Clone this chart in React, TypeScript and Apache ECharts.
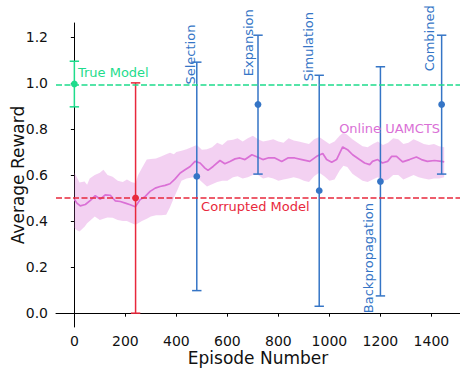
import React, { useEffect, useRef } from "react";
import * as echarts from "echarts";

// ---------- data ----------
const xTicks = [0, 200, 400, 600, 800, 1000, 1200, 1400];
const yTicks = [0, 0.2, 0.4, 0.6, 0.8, 1.0, 1.2];

const episodes = [
  0, 10, 23, 43, 63, 82, 102, 121, 141, 160, 180, 200, 219, 239, 258, 278, 297, 317, 336, 356,
  375, 395, 415, 434, 454, 473, 493, 512, 524, 544, 571, 590, 610, 630, 649, 669, 696, 720, 739,
  759, 786, 813, 837, 864, 892, 923, 950, 974, 989, 1009, 1028, 1052, 1071, 1091, 1118, 1138,
  1158, 1169, 1189, 1208, 1228, 1244, 1263, 1287, 1314, 1341, 1361, 1384, 1412, 1439, 1450,
];
const meanReward = [
  0.495, 0.478, 0.466, 0.472, 0.49, 0.51, 0.495, 0.514, 0.512, 0.488, 0.485, 0.478, 0.471, 0.462,
  0.493, 0.507, 0.529, 0.543, 0.55, 0.555, 0.562, 0.583, 0.609, 0.623, 0.637, 0.659, 0.652, 0.63,
  0.62, 0.637, 0.663, 0.649, 0.659, 0.67, 0.674, 0.667, 0.688, 0.677, 0.667, 0.674, 0.674, 0.659,
  0.674, 0.674, 0.667, 0.659, 0.681, 0.693, 0.667, 0.655, 0.667, 0.722, 0.71, 0.688, 0.667, 0.652,
  0.645, 0.659, 0.667, 0.652, 0.659, 0.681, 0.681, 0.657, 0.667, 0.678, 0.667, 0.659, 0.663,
  0.659, 0.657,
];

const bandEpisodes = [
  0, 10, 20, 40, 50, 60, 80, 100, 114, 130, 150, 170, 190, 206, 225, 240, 250, 265, 284, 300,
  320, 340, 360, 375, 390, 400, 420, 440, 466, 480, 500, 520, 540, 560, 580, 600, 622, 640, 660,
  680, 700, 720, 740, 760, 780, 800, 820, 840, 860, 880, 900, 920, 940, 960, 980, 1000, 1020,
  1040, 1055, 1070, 1090, 1110, 1130, 1150, 1170, 1190, 1210, 1230, 1250, 1270, 1290, 1310,
  1330, 1350, 1370, 1390, 1410, 1430, 1450,
];
const bandUpper = [
  0.61, 0.59, 0.567, 0.572, 0.558, 0.585, 0.6, 0.61, 0.623, 0.6, 0.592, 0.575, 0.57, 0.58, 0.568,
  0.565, 0.6, 0.63, 0.667, 0.67, 0.672, 0.68, 0.69, 0.697, 0.69, 0.7, 0.705, 0.712, 0.724, 0.73,
  0.71, 0.712, 0.72, 0.74, 0.73, 0.75, 0.753, 0.76, 0.745, 0.76, 0.77, 0.755, 0.745, 0.75, 0.755,
  0.745, 0.74, 0.76, 0.75, 0.745, 0.74, 0.735, 0.755, 0.765, 0.75, 0.735, 0.745, 0.77, 0.785,
  0.775, 0.755, 0.74, 0.725, 0.72, 0.735, 0.745, 0.73, 0.74, 0.76, 0.755, 0.735, 0.74, 0.755,
  0.745, 0.735, 0.73, 0.735, 0.725, 0.72,
];
const bandLower = [
  0.37, 0.36, 0.355, 0.375, 0.39, 0.4, 0.42, 0.405, 0.41, 0.415, 0.414, 0.405, 0.4, 0.4, 0.39,
  0.384, 0.39, 0.4, 0.41, 0.42, 0.425, 0.425, 0.427, 0.46, 0.5, 0.525, 0.575, 0.585, 0.59, 0.59,
  0.57, 0.55, 0.56, 0.57, 0.575, 0.575, 0.59, 0.595, 0.585, 0.59, 0.6, 0.6, 0.585, 0.59, 0.585,
  0.575, 0.58, 0.585, 0.59, 0.585, 0.575, 0.57, 0.595, 0.61, 0.595, 0.575, 0.58, 0.62, 0.64,
  0.635, 0.605, 0.59, 0.575, 0.57, 0.58, 0.59, 0.575, 0.58, 0.6, 0.6, 0.58, 0.59, 0.6, 0.59,
  0.585, 0.58, 0.585, 0.585, 0.59,
];

const methodNames = ["True Model", "Corrupted Model", "Selection", "Expansion", "Simulation", "Backpropagation", "Combined"];
const methodEpisodes = [0, 240, 480, 720, 960, 1200, 1440];
const methodMean = [0.995, 0.5, 0.594, 0.906, 0.532, 0.572, 0.906];
const methodLow = [0.896, 0.0, 0.098, 0.604, 0.03, 0.075, 0.604];
const methodHigh = [1.094, 1.0, 1.09, 1.207, 1.033, 1.07, 1.207];

const trueModelReward = 0.99;
const corruptedModelReward = 0.5;

// ---------- styling / layout ----------
const GREEN = "#1edc8c";
const RED = "#e8283c";
const BLUE = "#3575c6";
const ORCHID = "#da70d6";
const methodColors = [GREEN, RED, BLUE, BLUE, BLUE, BLUE, BLUE];
const FONT = "DejaVu Sans";

// annotation anchors (data coordinates)
const annotations = [
  { text: "True Model", x: 14, y: 1.046, color: GREEN, rotate: false, align: "left" },
  { text: "Corrupted Model", x: 497, y: 0.462, color: RED, rotate: false, align: "left" },
  { text: "Online UAMCTS", x: 1434, y: 0.804, color: ORCHID, rotate: false, align: "right" },
  { text: "Selection", x: 454, y: 0.993, color: BLUE, rotate: true, align: "left" },
  { text: "Expansion", x: 682, y: 1.029, color: BLUE, rotate: true, align: "left" },
  { text: "Simulation", x: 919, y: 1.007, color: BLUE, rotate: true, align: "left" },
  { text: "Backpropagation", x: 1152, y: 0.0, color: BLUE, rotate: true, align: "left" },
  { text: "Combined", x: 1394, y: 1.05, color: BLUE, rotate: true, align: "left" },
];

export default function App() {
  const ref = useRef<HTMLDivElement>(null);
  useEffect(() => {
    document.body.style.margin = "0";
    const chart = echarts.init(ref.current as HTMLDivElement, null, { renderer: "svg" });
    const option: any = {
      animation: false,
      backgroundColor: "#ffffff",
      textStyle: { fontFamily: FONT },
      grid: { left: 56, right: 0, top: 23, bottom: 44, containLabel: false, outerBoundsMode: "none" },
      xAxis: {
        type: "value",
        min: -72,
        max: 1512,
        name: "Episode Number",
        nameLocation: "middle",
        nameGap: 22,
        nameMoveOverlap: false,
        nameTextStyle: { fontSize: 17, color: "#111", fontFamily: FONT },
        axisLine: { show: true, lineStyle: { color: "#000", width: 1 } },
        axisTick: { show: true, length: 3.5, lineStyle: { color: "#000" }, customValues: xTicks },
        axisLabel: { fontSize: 14, color: "#111", margin: 7, customValues: xTicks, formatter: (v: number) => String(v) },
        splitLine: { show: false },
      },
      yAxis: {
        type: "value",
        min: -0.06,
        max: 1.26,
        name: "Average Reward",
        nameLocation: "middle",
        nameGap: 30,
        nameRotate: 90,
        nameMoveOverlap: false,
        nameTextStyle: { fontSize: 17, color: "#111", fontFamily: FONT },
        axisLine: { show: true, lineStyle: { color: "#000", width: 1 } },
        axisTick: { show: true, length: 3.5, lineStyle: { color: "#000" }, customValues: yTicks },
        axisLabel: { fontSize: 14, color: "#111", margin: 8, customValues: yTicks, formatter: (v: number) => v.toFixed(1) },
        splitLine: { show: false },
      },
      series: [
        {
          type: "custom",
          name: "band",
          data: [[0, 0]],
          silent: true,
          z: 1,
          renderItem: (params: any, api: any) => {
            const pts: number[][] = [];
            for (let i = 0; i < bandEpisodes.length; i++) pts.push(api.coord([bandEpisodes[i], bandUpper[i]]));
            for (let i = bandEpisodes.length - 1; i >= 0; i--) pts.push(api.coord([bandEpisodes[i], bandLower[i]]));
            return { type: "polygon", shape: { points: pts }, style: { fill: ORCHID, opacity: 0.32 } };
          },
        },
        {
          type: "line",
          name: "Online UAMCTS",
          data: episodes.map((e, i) => [e, meanReward[i]]),
          showSymbol: false,
          symbol: "none",
          lineStyle: { color: ORCHID, width: 1.7 },
          z: 2,
        },
        {
          type: "line",
          name: "refs",
          data: [],
          z: 3,
          markLine: {
            silent: true,
            symbol: "none",
            label: { show: false },
            data: [
              { yAxis: trueModelReward, lineStyle: { color: GREEN, type: [6, 2.5], width: 1.5 } },
              { yAxis: corruptedModelReward, lineStyle: { color: RED, type: [6, 2.5], width: 1.5 } },
            ],
          },
        },
        {
          type: "custom",
          name: "methods",
          z: 4,
          encode: { x: 0, y: [1, 2, 3] },
          data: methodEpisodes.map((e, i) => [e, methodMean[i], methodLow[i], methodHigh[i]]),
          renderItem: (params: any, api: any) => {
            const i = params.dataIndex;
            const x = api.value(0);
            const pM = api.coord([x, api.value(1)]);
            const pL = api.coord([x, api.value(2)]);
            const pH = api.coord([x, api.value(3)]);
            const c = methodColors[i];
            const cap = 4.7;
            const ls = { stroke: c, lineWidth: 1.5 };
            return {
              type: "group",
              children: [
                { type: "line", shape: { x1: pL[0], y1: pL[1], x2: pH[0], y2: pH[1] }, style: ls },
                { type: "line", shape: { x1: pL[0] - cap, y1: pL[1], x2: pL[0] + cap, y2: pL[1] }, style: ls },
                { type: "line", shape: { x1: pH[0] - cap, y1: pH[1], x2: pH[0] + cap, y2: pH[1] }, style: ls },
                { type: "circle", shape: { cx: pM[0], cy: pM[1], r: 3.4 }, style: { fill: c } },
              ],
            };
          },
        },
        {
          type: "custom",
          name: "annotations",
          z: 5,
          silent: true,
          data: annotations.map((a) => [a.x, a.y]),
          renderItem: (params: any, api: any) => {
            const a = annotations[params.dataIndex];
            const p = api.coord([a.x, a.y]);
            return {
              type: "text",
              x: p[0],
              y: p[1],
              rotation: a.rotate ? Math.PI / 2 : 0,
              style: {
                text: a.text,
                fill: a.color,
                fontSize: 13,
                fontFamily: FONT,
                align: a.align,
                verticalAlign: "middle",
                textAlign: a.align,
                textVerticalAlign: "middle",
              },
            };
          },
        },
      ],
    };
    chart.setOption(option);
    return () => chart.dispose();
  }, []);
  return <div ref={ref} style={{ position: "fixed", left: 0, top: 0, width: 460, height: 371 }} />;
}
